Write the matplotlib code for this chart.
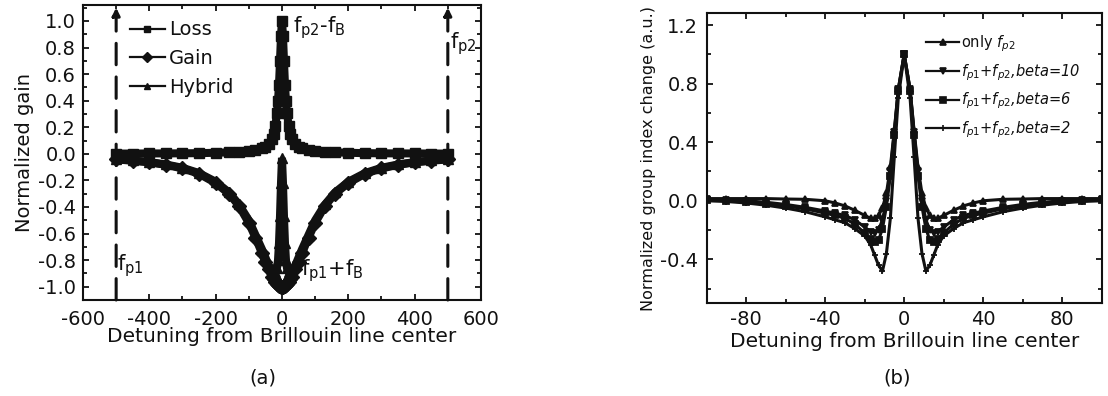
import matplotlib
matplotlib.use("Agg")
import matplotlib.pyplot as plt
from matplotlib.lines import Line2D
from matplotlib.ticker import MultipleLocator

plt.rcParams["font.family"] = ["DejaVu Sans"]
plt.rcParams["axes.unicode_minus"] = False
plt.rcParams["mathtext.fontset"] = "dejavusans"

INK = "#111111"

# ---------------- (a) normalized gain spectra ----------------
detuning_a = [-500, -450, -400, -350, -300, -250, -200, -160, -130, -100, -80, -60, -50, -40,
              -30, -25, -20, -15, -12, -9, -6, -3, 0, 3, 6, 9, 12, 15, 20, 25, 30,
              40, 50, 60, 80, 100, 130, 160, 200, 250, 300, 350, 400, 450, 500]
loss = [0.002, 0.002, 0.003, 0.003, 0.004, 0.005, 0.008, 0.011, 0.015, 0.020, 0.028, 0.042, 0.055, 0.075,
        0.11, 0.15, 0.21, 0.31, 0.40, 0.52, 0.70, 0.89, 1.00, 0.89, 0.70, 0.52, 0.40, 0.31, 0.21, 0.15, 0.11,
        0.075, 0.055, 0.042, 0.028, 0.020, 0.015, 0.011, 0.008, 0.005, 0.004, 0.003, 0.003, 0.002, 0.002]
gain = [-0.042, -0.052, -0.064, -0.083, -0.11, -0.15, -0.22, -0.30, -0.39, -0.52, -0.63, -0.75, -0.815, -0.87,
        -0.925, -0.945, -0.965, -0.98, -0.987, -0.993, -0.997, -0.999, -1.0, -0.999, -0.997, -0.993, -0.987,
        -0.98, -0.965, -0.945, -0.925,
        -0.87, -0.815, -0.75, -0.63, -0.52, -0.39, -0.30, -0.22, -0.15, -0.11, -0.083, -0.064, -0.052, -0.042]
hybrid = [-0.040, -0.050, -0.062, -0.080, -0.105, -0.145, -0.21, -0.29, -0.38, -0.50, -0.61, -0.72, -0.78, -0.84,
          -0.88, -0.89, -0.89, -0.86, -0.80, -0.67, -0.47, -0.22, -0.03, -0.22, -0.47, -0.67, -0.80, -0.86,
          -0.89, -0.89, -0.88,
          -0.84, -0.78, -0.72, -0.61, -0.50, -0.38, -0.29, -0.21, -0.145, -0.105, -0.080, -0.062, -0.050, -0.040]
series_a = ["Loss", "Gain", "Hybrid"]
markers_a = ["s", "D", "^"]
pump_detuning = [-500, 500]

# ---------------- (b) group index change ----------------
detuning_b = [-100, -90, -80, -70, -60, -50, -40, -35, -30, -25, -20, -17, -15, -13, -11, -9, -7, -5, -3, 0,
              3, 5, 7, 9, 11, 13, 15, 17, 20, 25, 30, 35, 40, 50, 60, 70, 80, 90, 100]
only_fp2 = [0.015, 0.015, 0.015, 0.015, 0.012, 0.010, 0.000, -0.015, -0.035, -0.065, -0.10, -0.12, -0.12,
            -0.10, -0.05, 0.05, 0.23, 0.48, 0.76, 1.00,
            0.76, 0.48, 0.23, 0.05, -0.05, -0.10, -0.12, -0.12, -0.10, -0.065, -0.035, -0.015, 0.000,
            0.010, 0.012, 0.015, 0.015, 0.015, 0.015]
beta10 = [0.010, 0.005, 0.000, -0.010, -0.025, -0.045, -0.070, -0.085, -0.10, -0.13, -0.18, -0.21, -0.22,
          -0.20, -0.13, 0.00, 0.20, 0.47, 0.76, 1.00,
          0.76, 0.47, 0.20, 0.00, -0.13, -0.20, -0.22, -0.21, -0.18, -0.13, -0.10, -0.085, -0.070,
          -0.045, -0.025, -0.010, 0.000, 0.005, 0.010]
beta6 = [0.005, 0.000, -0.010, -0.020, -0.035, -0.055, -0.085, -0.10, -0.12, -0.16, -0.22, -0.26, -0.28,
         -0.27, -0.19, -0.04, 0.17, 0.45, 0.75, 1.00,
         0.75, 0.45, 0.17, -0.04, -0.19, -0.27, -0.28, -0.26, -0.22, -0.16, -0.12, -0.10, -0.085,
         -0.055, -0.035, -0.020, -0.010, 0.000, 0.005]
beta2 = [0.000, -0.005, -0.015, -0.030, -0.050, -0.075, -0.11, -0.13, -0.15, -0.19, -0.24, -0.30, -0.37,
         -0.44, -0.48, -0.36, -0.12, 0.30, 0.70, 1.00,
         0.70, 0.30, -0.12, -0.36, -0.48, -0.44, -0.37, -0.30, -0.24, -0.19, -0.15, -0.13, -0.11,
         -0.075, -0.050, -0.030, -0.015, -0.005, 0.000]
labels_b = [r"only $f_{p2}$",
            r"$f_{p1}$+$f_{p2}$,beta=10",
            r"$f_{p1}$+$f_{p2}$,beta=6",
            r"$f_{p1}$+$f_{p2}$,beta=2"]
markers_b = ["^", "v", "s", "+"]

fig = plt.figure(figsize=(11.08, 3.96), dpi=100)
axa = fig.add_axes([0.0749, 0.2424, 0.3592, 0.745])
axb = fig.add_axes([0.6378, 0.2341, 0.3565, 0.7323])


def style_axes(ax, xpad, ypad):
    for s in ax.spines.values():
        s.set_linewidth(1.5)
        s.set_color(INK)
    ax.tick_params(which="both", direction="in", top=True, right=True,
                   colors=INK, width=1.3, labelsize=14)
    ax.tick_params(which="major", length=4.5)
    ax.tick_params(which="minor", length=3)
    ax.tick_params(axis="x", pad=xpad)
    ax.tick_params(axis="y", pad=ypad)


# ---- panel (a)
for yv, mk in zip([loss, gain, hybrid], markers_a):
    axa.plot(detuning_a, yv, color=INK, lw=5.8, marker=mk, ms=7,
             solid_joinstyle="miter")

for xp in pump_detuning:
    axa.annotate("", xy=(xp, 1.1), xytext=(xp, -1.1),
                 arrowprops=dict(arrowstyle="-|>", color=INK, lw=2.2,
                                 linestyle=(0, (7, 4)), mutation_scale=11,
                                 shrinkA=0, shrinkB=0))

axa.set_xlim(-600, 600)
axa.set_ylim(-1.1, 1.12)
axa.xaxis.set_major_locator(MultipleLocator(200))
axa.xaxis.set_minor_locator(MultipleLocator(100))
axa.yaxis.set_major_locator(MultipleLocator(0.2))
axa.yaxis.set_minor_locator(MultipleLocator(0.1))
axa.yaxis.set_major_formatter(plt.FormatStrFormatter("%.1f"))
style_axes(axa, 7, 5)
axa.set_xlabel("Detuning from Brillouin line center", fontsize=14.5, color=INK, labelpad=-1)
axa.set_ylabel("Normalized gain", fontsize=14, color=INK, labelpad=3)

handles_a = [Line2D([], [], color=INK, lw=1.6, marker=m, ms=5) for m in markers_a]
axa.legend(handles_a, series_a, loc="upper left", bbox_to_anchor=(0.118, 0.948),
           frameon=False, fontsize=14, handlelength=1.8, handletextpad=0.2,
           borderaxespad=0, borderpad=0, labelspacing=0.5, labelcolor=INK)

ann_kw = dict(fontsize=15, color=INK, va="top", ha="left")
axa.text(32, 1.05, r"f$_{\mathregular{p2}}$-f$_{\mathregular{B}}$", **ann_kw)
axa.text(508, 0.93, r"f$_{\mathregular{p2}}$", **ann_kw)
axa.text(-498, -0.74, r"f$_{\mathregular{p1}}$", **ann_kw)
axa.text(56, -0.78, r"f$_{\mathregular{p1}}$+f$_{\mathregular{B}}$", **ann_kw)

fig.text(0.2374, 0.046, "(a)", fontsize=14, color=INK, ha="center", va="center")

# ---- panel (b)
for yv, mk in zip([only_fp2, beta10, beta6, beta2], markers_b):
    axb.plot(detuning_b, yv, color=INK, lw=2.2, marker=mk, ms=4, mew=1.3)

axb.set_xlim(-100, 100)
axb.set_ylim(-0.70, 1.28)
axb.xaxis.set_major_locator(MultipleLocator(40))
axb.xaxis.set_minor_locator(MultipleLocator(20))
axb.yaxis.set_major_locator(MultipleLocator(0.4))
axb.yaxis.set_minor_locator(MultipleLocator(0.2))
axb.yaxis.set_major_formatter(plt.FormatStrFormatter("%.1f"))
style_axes(axb, 5, 6)
axb.set_xlabel("Detuning from Brillouin line center", fontsize=14.5, color=INK, labelpad=2)
axb.set_ylabel("Normalized group index change (a.u.)", fontsize=11.5, color=INK, labelpad=3)

handles_b = [Line2D([], [], color=INK, lw=1.6, marker=m, ms=4, mew=1.2) for m in markers_b]
leg_b = axb.legend(handles_b, labels_b, loc="upper left", bbox_to_anchor=(0.555, 0.93),
                   frameon=False, fontsize=10.5, handlelength=2.3, handletextpad=0.1,
                   borderaxespad=0, borderpad=0, labelspacing=0.55, labelcolor=INK,
                   prop=dict(style="italic", size=10.5))
leg_b.get_texts()[0].set_fontstyle("normal")

fig.text(0.8095, 0.046, "(b)", fontsize=14, color=INK, ha="center", va="center")

fig.savefig("out.png", dpi=100, facecolor="white")
